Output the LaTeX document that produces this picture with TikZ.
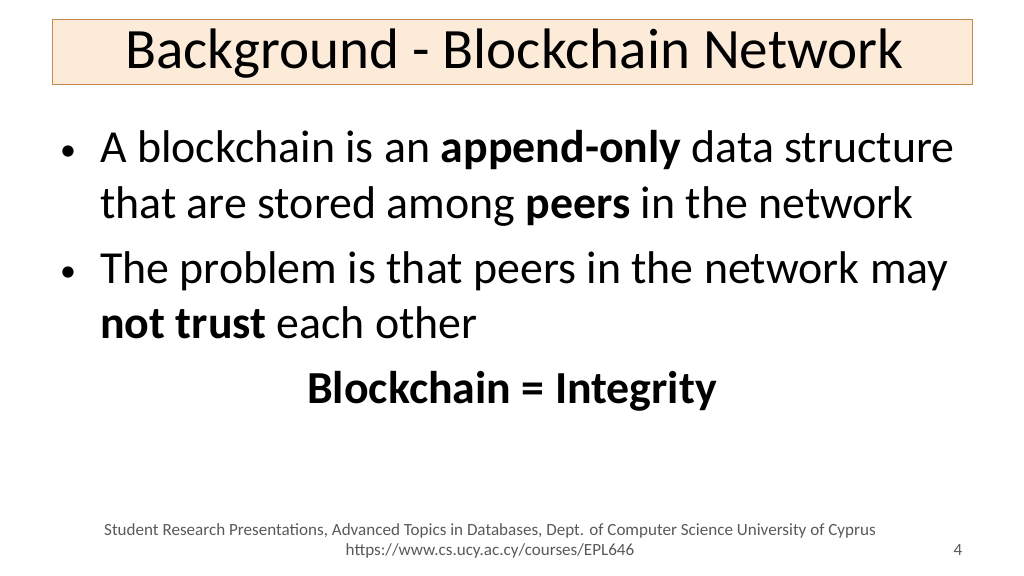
\documentclass[tikz,border=0pt]{standalone}
\usepackage{fontspec}
\setmainfont{Carlito}
\definecolor{tfill}{HTML}{FDEBDA}
\definecolor{tline}{HTML}{C8894F}
\definecolor{foot}{HTML}{595959}
\begin{document}
\begin{tikzpicture}[x=0.9375pt,y=-0.9375pt,
  body/.style={anchor=base west,inner sep=0pt,font=\fontsize{43}{50}\selectfont},
  bul/.style={anchor=base west,inner sep=0pt,font=\fontsize{30}{36}\selectfont},
  footer/.style={anchor=base,inner sep=0pt,text=foot,font=\fontsize{16}{19}\selectfont}]
\useasboundingbox (0,0) rectangle (1024,576);
\node[draw=tline,fill=tfill,line width=0.8pt,minimum width=920*0.9375pt,minimum height=65*0.9375pt,anchor=north west,inner sep=0pt] (title) at (52,19) {};
\node[anchor=base west,inner sep=0pt,font=\fontsize{53.5}{60}\selectfont] (tt) at (125,69) {Background - Blockchain Network};
\node[bul] (b1) at (60,161) {•};
\node[body] (l1) at (100,163) {A blockchain is an \textbf{append-only} data structure};
\node[body] (l2) at (100,218) {that are stored among \textbf{peers} in the network};
\node[bul] (b2) at (60,281) {•};
\node[body] (l3) at (100,283) {The problem is that peers in the network may};
\node[body] (l4) at (100,338) {\textbf{not trust} each other};
\node[anchor=base,inner sep=0pt,font=\fontsize{43}{50}\selectfont\bfseries] (eq) at (512,403) {Blockchain = Integrity};
\node[footer] (f1) at (490,535) {Student Research Presentations, Advanced Topics in Databases, Dept. of Computer Science University of Cyprus};
\node[footer] (f2) at (490,555) {https://www.cs.ucy.ac.cy/courses/EPL646};
\node[footer] (pg) at (958,555) {4};
\end{tikzpicture}
\end{document}
